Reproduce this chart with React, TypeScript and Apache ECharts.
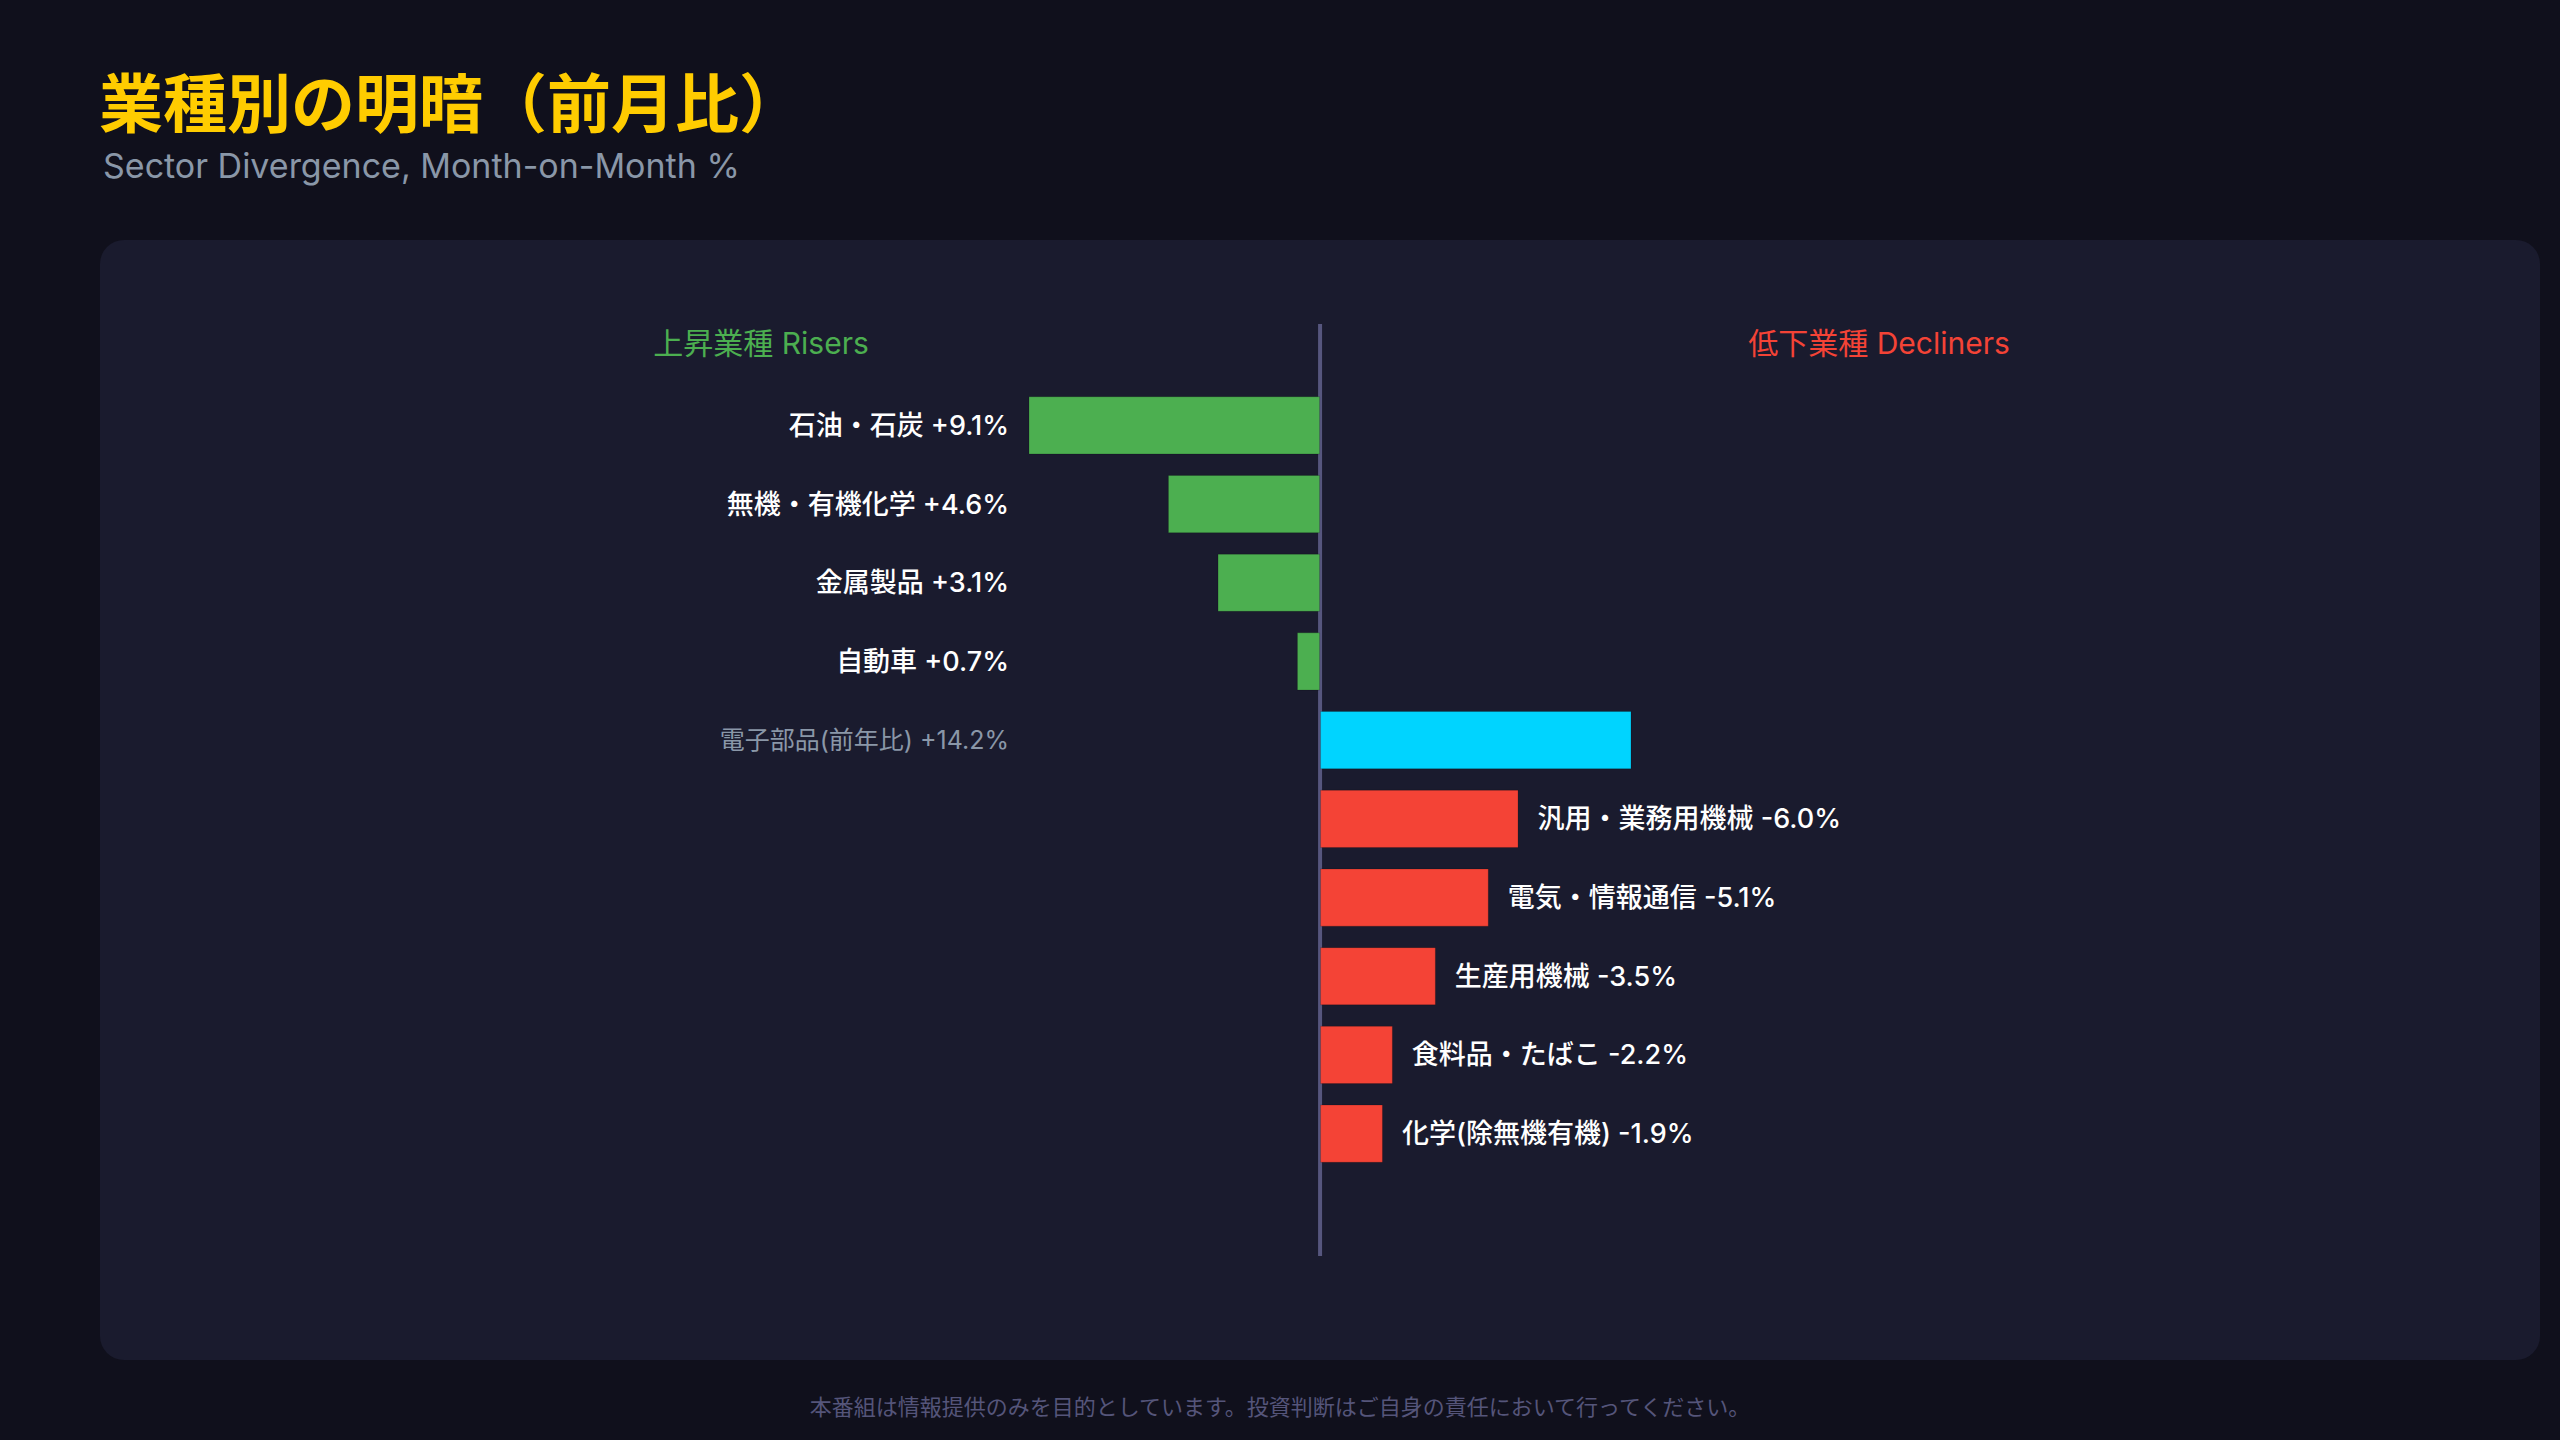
import { useEffect, useRef } from 'react';
import * as echarts from 'echarts';

// 上昇業種（前月比 %）
const riserNames = ['石油・石炭', '無機・有機化学', '金属製品', '自動車'];
const riserValues = [9.1, 4.6, 3.1, 0.7];

// 参考: 電子部品（前年比 %）
const highlightName = '電子部品(前年比)';
const highlightValue = 14.2;

// 低下業種（前月比 %）
const declinerNames = ['汎用・業務用機械', '電気・情報通信', '生産用機械', '食料品・たばこ', '化学(除無機有機)'];
const declinerValues = [-6.0, -5.1, -3.5, -2.2, -1.9];

const GREEN = '#4caf50';
const RED = '#f44336';
const CYAN = '#00d4ff';
const GREY = '#8a97a8';
const FONT = "Inter, 'Noto Sans CJK JP', sans-serif";

const fmt = (v: number) => `${v > 0 ? '+' : ''}${v.toFixed(1)}%`;

export default function App() {
  const chartRef = useRef<HTMLDivElement | null>(null);

  useEffect(() => {
    if (!chartRef.current) return undefined;
    const chart = echarts.init(chartRef.current, undefined, { renderer: 'svg' });

    const categories = [...riserNames, highlightName, ...declinerNames];
    const values = [...riserValues, highlightValue, ...declinerValues];

    // 上昇は左、低下と電子部品は右に描く
    const data = [
      ...riserValues.map((v) => ({ value: -v, itemStyle: { color: GREEN } })),
      { value: highlightValue, itemStyle: { color: CYAN } },
      ...declinerValues.map((v, i) => ({
        value: -v,
        itemStyle: { color: RED },
        label: {
          show: true,
          position: 'right',
          distance: 19,
          formatter: `${declinerNames[i]} ${fmt(v)}`,
          color: '#ffffff',
          fontSize: 27,
          fontWeight: 500,
          fontFamily: FONT,
        },
      })),
    ];

    chart.setOption({
      animation: false,
      backgroundColor: '#10101c',
      textStyle: { fontFamily: FONT },
      title: [
        {
          text: '業種別の明暗（前月比）',
          left: 94,
          top: 66,
          textStyle: { color: '#ffcc00', fontSize: 64, fontWeight: 'bold', fontFamily: FONT },
        },
        {
          text: 'Sector Divergence, Month-on-Month %',
          left: 98,
          top: 143,
          textStyle: { color: GREY, fontSize: 34, fontWeight: 'normal', fontFamily: FONT },
        },
        {
          text: '本番組は情報提供のみを目的としています。投資判断はご自身の責任において行ってください。',
          left: 'center',
          top: 1391,
          textStyle: { color: '#55557a', fontSize: 22, fontWeight: 'normal', fontFamily: FONT },
        },
      ],
      grid: { left: 1029, right: 929, top: 386, bottom: 267, containLabel: false },
      xAxis: {
        type: 'value',
        min: -8.8,
        max: 9.4,
        show: false,
        splitLine: { show: false },
      },
      yAxis: {
        type: 'category',
        data: categories,
        inverse: true,
        axisLine: { show: false },
        axisTick: { show: false },
        splitLine: { show: false },
        axisLabel: {
          margin: 20,
          formatter: (val: string, idx: number) => {
            if (idx < riserNames.length) return `{w|${val} ${fmt(values[idx])}}`;
            if (idx === riserNames.length) return `{g|${val} ${fmt(values[idx])}}`;
            return '';
          },
          rich: {
            w: { color: '#ffffff', fontSize: 27, fontWeight: 500, fontFamily: FONT },
            g: { color: GREY, fontSize: 25, fontWeight: 'normal', fontFamily: FONT },
          },
        },
      },
      series: [
        {
          type: 'bar',
          data,
          barCategoryGap: '26%',
          clip: true,
          itemStyle: { borderColor: 'rgba(0,0,0,0.18)', borderWidth: 1 },
        },
      ],
    });

    const zeroX = chart.convertToPixel({ xAxisIndex: 0 }, 0) as number;

    chart.setOption({
      graphic: [
        {
          type: 'rect',
          z: 0,
          silent: true,
          shape: { x: 100, y: 240, width: 2440, height: 1120, r: 24 },
          style: { fill: '#1a1b2e' },
        },
        {
          type: 'line',
          z: 1,
          silent: true,
          shape: { x1: zeroX, y1: 324, x2: zeroX, y2: 1256 },
          style: { stroke: '#56567e', lineWidth: 4 },
        },
        {
          type: 'text',
          z: 5,
          x: zeroX - 559,
          y: 343,
          style: {
            text: '上昇業種 Risers',
            fill: GREEN,
            font: `normal 30px ${FONT}`,
            align: 'center',
            verticalAlign: 'middle',
          },
        },
        {
          type: 'text',
          z: 5,
          x: zeroX + 559,
          y: 343,
          style: {
            text: '低下業種 Decliners',
            fill: RED,
            font: `normal 30px ${FONT}`,
            align: 'center',
            verticalAlign: 'middle',
          },
        },
      ],
    });

    return () => {
      chart.dispose();
    };
  }, []);

  return (
    <div style={{ position: 'absolute', left: 0, top: 0, width: 2560, height: 1440 }}>
      <div ref={chartRef} style={{ width: 2560, height: 1440 }} />
    </div>
  );
}
